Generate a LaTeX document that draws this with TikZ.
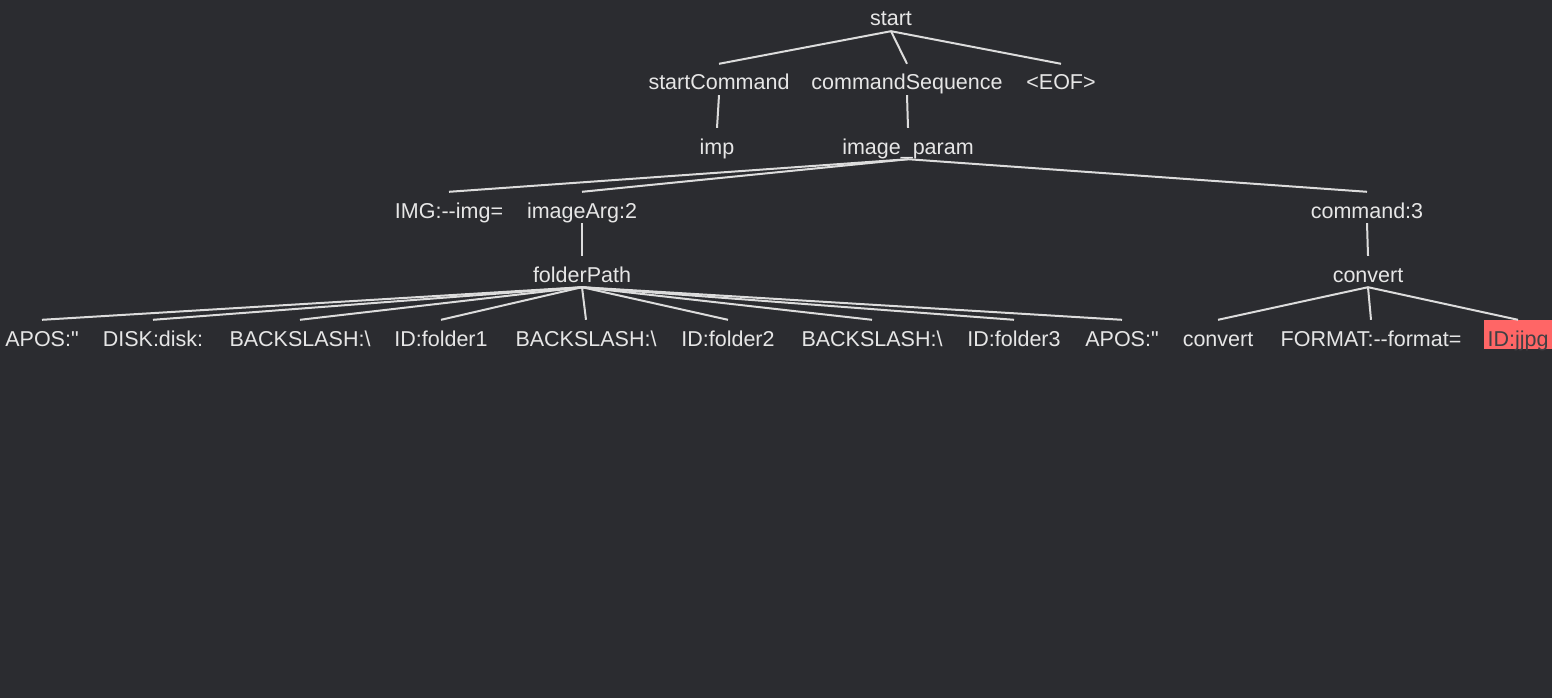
\documentclass[tikz,border=0pt]{standalone}
\usepackage{fontspec}
\setmainfont{Liberation Sans}[Ligatures=TeXOff]
\definecolor{bgcol}{RGB}{43,44,48}
\definecolor{txtcol}{RGB}{230,230,230}
\definecolor{edgecol}{RGB}{220,220,220}
\definecolor{errcol}{RGB}{255,102,102}
\definecolor{errtxt}{RGB}{64,64,68}
\newcommand\dd{-\kern0pt-}

\begin{document}
\begin{tikzpicture}[x=1pt,y=-1pt]
  \tikzset{tree node/.style={anchor=base,inner sep=0pt,text height=26pt,text depth=5pt,text=txtcol,font=\fontsize{21.5}{25}\selectfont},
           err node/.style={tree node,fill=errcol,text=errtxt,text depth=3pt,inner xsep=4pt},
           tree edge/.style={draw=edgecol,line width=2pt}}

  \fill[bgcol] (0,0) rectangle (1552,698);
  \useasboundingbox (0,0) rectangle (1552,698);

  \node [tree node] (start) at (891,26) {start};
  \node [tree node] (startCommand) at (719,90) {startCommand};
  \node [tree node] (commandSequence) at (907,90) {commandSequence};
  \node [tree node] (eof) at (1061,90) {<EOF>};
  \node [tree node] (imp) at (717,154) {imp};
  \node [tree node] (imageParam) at (908,154) {image\_param};
  \node [tree node] (imgTok) at (449,218) {IMG:\dd img=};
  \node [tree node] (imageArg) at (582,218) {imageArg:2};
  \node [tree node] (command) at (1367,218) {command:3};
  \node [tree node] (folderPath) at (582,282) {folderPath};
  \node [tree node] (convertRule) at (1368,282) {convert};
  \node [tree node] (aposA) at (42,346) {APOS:\char"22};
  \node [tree node] (disk) at (153,346) {DISK:disk:};
  \node [tree node] (slashA) at (300,346) {BACKSLASH:\textbackslash};
  \node [tree node] (folderA) at (441,346) {ID:folder1};
  \node [tree node] (slashB) at (586,346) {BACKSLASH:\textbackslash};
  \node [tree node] (folderB) at (728,346) {ID:folder2};
  \node [tree node] (slashC) at (872,346) {BACKSLASH:\textbackslash};
  \node [tree node] (folderC) at (1014,346) {ID:folder3};
  \node [tree node] (aposB) at (1122,346) {APOS:\char"22};
  \node [tree node] (convertTok) at (1218,346) {convert};
  \node [tree node] (format) at (1371,346) {FORMAT:\dd format=};
  \node [err node] (idJpg) at (1518,346) {ID:jjpg};

  \draw [tree edge] (start.south) -- (startCommand.north);
  \draw [tree edge] (start.south) -- (commandSequence.north);
  \draw [tree edge] (start.south) -- (eof.north);
  \draw [tree edge] (startCommand.south) -- (imp.north);
  \draw [tree edge] (commandSequence.south) -- (imageParam.north);
  \draw [tree edge] (imageParam.south) -- (imgTok.north);
  \draw [tree edge] (imageParam.south) -- (imageArg.north);
  \draw [tree edge] (imageParam.south) -- (command.north);
  \draw [tree edge] (imageArg.south) -- (folderPath.north);
  \draw [tree edge] (command.south) -- (convertRule.north);
  \foreach \leaf in {aposA,disk,slashA,folderA,slashB,folderB,slashC,folderC,aposB}
    \draw [tree edge] (folderPath.south) -- (\leaf.north);
  \draw [tree edge] (convertRule.south) -- (convertTok.north);
  \draw [tree edge] (convertRule.south) -- (format.north);
  \draw [tree edge] (convertRule.south) -- (idJpg.north);
\end{tikzpicture}
\end{document}
